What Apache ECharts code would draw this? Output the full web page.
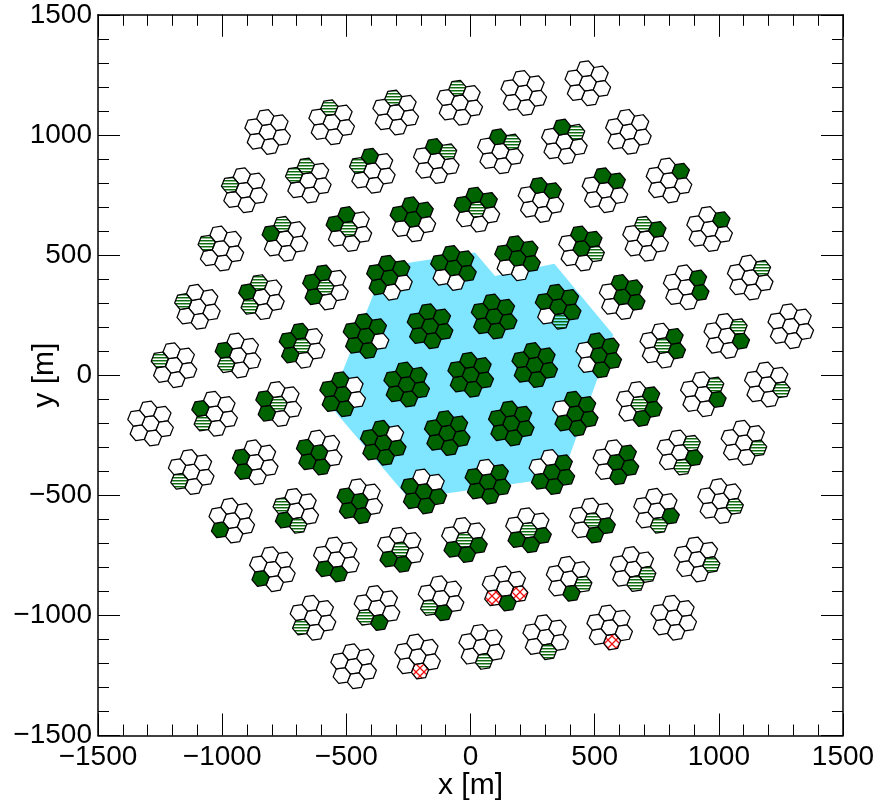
<!DOCTYPE html>
<html><head><meta charset="utf-8">
<style>html,body{margin:0;padding:0;background:#fff;overflow:hidden}#c{width:877px;height:805px}</style>
<script src="https://cdn.jsdelivr.net/npm/echarts@6/dist/echarts.min.js"></script>
</head><body><div id="c"></div>
<script>
// Cluster centres [x, y] in metres, one list per row of the array
var centreRows = [
 [[-816.8,1012.4],[-559,1052.9],[-301.2,1093.4],[-43.4,1133.9],[214.5,1174.4],[472.3,1214.9]],
 [[-911.1,769.7],[-653.3,810.2],[-395.5,850.7],[-137.7,891.2],[120.2,931.7],[378,972.2],[635.8,1012.7]],
 [[-1005.4,527],[-747.6,567.5],[-489.8,608],[-232,648.5],[25.9,689],[283.7,729.5],[541.5,770],[799.3,810.5]],
 [[-1099.7,284.3],[-841.9,324.8],[-584.1,365.3],[-326.3,405.8],[-68.5,446.3],[189.4,486.8],[447.2,527.3],[705,567.8],[962.8,608.3]],
 [[-1194,41.6],[-936.2,82.1],[-678.4,122.6],[-420.6,163.1],[-162.8,203.6],[95.1,244.1],[352.9,284.6],[610.7,325.1],[868.5,365.6],[1126.3,406.1]],
 [[-1288.3,-201.1],[-1030.5,-160.6],[-772.7,-120.1],[-514.9,-79.6],[-257.1,-39.1],[0.8,1.4],[258.6,41.9],[516.4,82.4],[774.2,122.9],[1032,163.4],[1289.8,203.9]],
 [[-1124.8,-403.3],[-867,-362.8],[-609.2,-322.3],[-351.4,-281.8],[-93.6,-241.3],[164.3,-200.8],[422.1,-160.3],[679.9,-119.8],[937.7,-79.3],[1195.5,-38.8]],
 [[-961.3,-605.5],[-703.5,-565],[-445.7,-524.5],[-187.9,-484],[70,-443.5],[327.8,-403],[585.6,-362.5],[843.4,-322],[1101.2,-281.5]],
 [[-797.8,-807.7],[-540,-767.2],[-282.2,-726.7],[-24.4,-686.2],[233.5,-645.7],[491.3,-605.2],[749.1,-564.7],[1006.9,-524.2]],
 [[-634.3,-1009.9],[-376.5,-969.4],[-118.7,-928.9],[139.2,-888.4],[397,-847.9],[654.8,-807.4],[912.6,-766.9]],
 [[-470.8,-1212.1],[-213,-1171.6],[44.9,-1131.1],[302.7,-1090.6],[560.5,-1050.1],[818.3,-1009.6]]
];
// State of each telescope: centre, top, top-right, bottom-right, bottom, bottom-left, top-left
// . = empty, G = solid green, H = green hatch, R = red cross-hatch
var stateRows = [
 [".......",".H.....",".H.....",".H.....",".......","......."],
 ["......H",".H....H",".G....H",".GH....",".GH....",".GH....","......."],
 ["......H",".H....G","HG....G","GGG...G","HGG...G",".GG....",".GG....","..G...."],
 ["......H",".H...HG","HG...GG","GGG..GG","GGGG..G","GGGG..G","GGGH...",".HG....","..G...."],
 ["......H",".....HG","HG...GG","GGG.GGG","GGGGGGG","GGGGGGG","GGGGH.G","GGGG...","..GG...","..H...."],
 [".......",".....HG","H....GG","GG..GGG","GGGGGGG","GGGGGGG","GGGGGGG","GGGGG..","H.GG...","..HG...","......."],
 [".....H.",".....GG","G...GGG","GG.GGGG","GGGGGGG","GGGGGGG","GGGGGG.","H.GGG..","..HG...","...H..."],
 [".....G.","....HGH","G...GGG","G..GGGG","G.GGGGG","G.GGGG.","G.GGG..","..HGH..","...H..."],
 [".....G.","....GG.","H...GG.","H..GGG.","H..GGG.","H..GG..","...GH..","...H..."],
 [".....H.","....GH.","....GH.","...RGR.","...HG..","...HH..","...H..."],
 [".......","....R..","....H..","....H..","....R..","......."]
];
// Outline of the shaded area, metres
var areaOutline = [[-346,452],[18,510.6],[98.7,412.4],[337.5,463.6],[575,168],[368.5,-423.7],[-247.7,-515],[-568.6,-123.4]];
var axisMin = -1500, axisMax = 1500, axisStep = 500;

var hexSpacing = 61, hexAngle = 39;
var centres = [], states = [];
centreRows.forEach(function(r,ri){ r.forEach(function(c,ci){ centres.push(c); states.push(stateRows[ri][ci]); }); });

function hatch(){ var c=document.createElement('canvas'); c.width=4;c.height=3; var x=c.getContext('2d');
  x.fillStyle='rgba(0,100,0,0.95)'; x.fillRect(0,0,4,1); x.fillStyle='rgba(0,100,0,0.45)'; x.fillRect(0,1,4,1); return c; }
function cross(){ var n=8,c=document.createElement('canvas'); c.width=n;c.height=n; var x=c.getContext('2d');
  x.strokeStyle='#f01010'; x.lineWidth=1.3; x.beginPath();
  x.moveTo(-1,-1);x.lineTo(n+1,n+1); x.moveTo(-1,n+1);x.lineTo(n+1,-1); x.stroke(); return c; }
var hatchFill={image:hatch(),repeat:'repeat'}, crossFill={image:cross(),repeat:'repeat'};
var fills={'.':'#ffffff','G':'#006400','H':hatchFill,'R':crossFill};

function renderCluster(params,api){
  var cx=api.value(0), cy=api.value(1), st=states[params.dataIndex], kids=[];
  var R=hexSpacing/Math.sqrt(3);
  for(var k=0;k<7;k++){
    var hx=cx, hy=cy;
    if(k>0){ var a=(hexAngle+60-60*(k-1))*Math.PI/180;
      hx+=hexSpacing*Math.cos(a); hy+=hexSpacing*Math.sin(a); }
    var pts=[];
    for(var m=0;m<6;m++){ var t=(hexAngle+30+60*m)*Math.PI/180; pts.push(api.coord([hx+R*Math.cos(t),hy+R*Math.sin(t)])); }
    kids.push({type:'polygon',shape:{points:pts},style:{fill:fills[st[k]],stroke:'#000',lineWidth:1.25,lineJoin:'round'}});
  }
  return {type:'group',children:kids};
}
function renderArea(params,api){
  return {type:'polygon',shape:{points:areaOutline.map(function(p){return api.coord(p);})},style:{fill:'#80e5ff',stroke:null}};
}
function fmt(v){ return String(v).replace('-','\u2212'); }
var font='"Liberation Sans",Arial,sans-serif', fs=28;
function axis(pos,isX,main){
  return {type:'value',position:pos,min:axisMin,max:axisMax,interval:axisStep,
    name:main?(isX?'x [m]':'y [m]'):'',nameLocation:'middle',nameGap:isX?35:38,nameMoveOverlap:false,
    nameTextStyle:{fontFamily:font,fontSize:30,color:'#000'},
    axisLine:{show:true,onZero:false,lineStyle:{color:'#000',width:1.5}},
    axisTick:{show:true,inside:true,length:22,lineStyle:{color:'#000',width:1}},
    minorTick:{show:true,splitNumber:5,length:11,lineStyle:{color:'#000',width:1}},
    splitLine:{show:false},minorSplitLine:{show:false},
    axisLabel:{show:main,formatter:fmt,fontFamily:font,fontSize:fs,color:'#000',margin:isX?8:6,hideOverlap:false,showMinLabel:true,showMaxLabel:true}};
}
var chart=echarts.init(document.getElementById('c'),null,{renderer:'canvas'});
chart.setOption({animation:false,backgroundColor:'#fff',
  grid:{left:98,top:14.8,width:745,height:720.7,containLabel:false,outerBoundsMode:'none'},
  xAxis:[axis('bottom',true,true),axis('top',true,false)],
  yAxis:[axis('left',false,true),axis('right',false,false)],
  series:[
   {type:'custom',renderItem:renderArea,data:[[0,0]],encode:{x:0,y:1},clip:false,silent:true,z:1},
   {type:'custom',renderItem:renderCluster,data:centres,encode:{x:0,y:1},clip:false,silent:true,z:2}
  ]});
</script></body></html>
